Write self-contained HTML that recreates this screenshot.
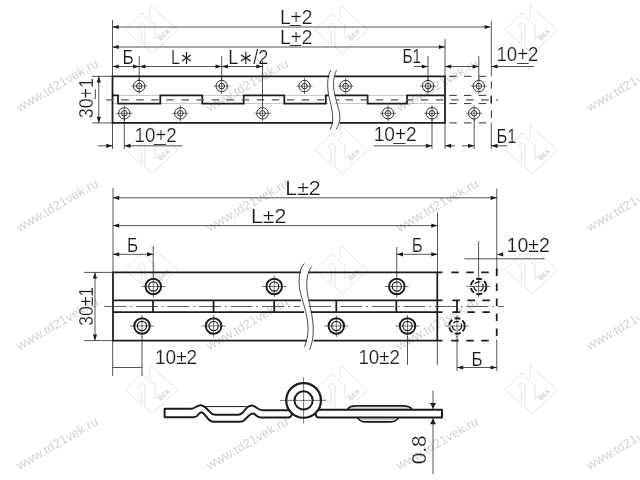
<!DOCTYPE html>
<html lang="ru"><head><meta charset="utf-8"><title>Петля рояльная — чертёж</title>
<style>
html,body{margin:0;padding:0;background:#fff;}
body{width:640px;height:480px;overflow:hidden;}
svg{display:block;will-change:transform;}
svg text{font-family:"Liberation Sans","DejaVu Sans",sans-serif;fill:#1c1c1c;stroke:#fff;stroke-width:0.2px;}
svg text.wm{fill:#d2d2d2;stroke:none;}
</style></head><body>
<svg width="640" height="480" viewBox="0 0 640 480">
<rect width="640" height="480" fill="#fff"/>
<text class="wm" x="19.5" y="112" font-size="12.5" transform="rotate(-30 19.5 112)" textLength="92" lengthAdjust="spacingAndGlyphs">www.td21vek.ru</text>
<text class="wm" x="209.5" y="112" font-size="12.5" transform="rotate(-30 209.5 112)" textLength="92" lengthAdjust="spacingAndGlyphs">www.td21vek.ru</text>
<text class="wm" x="399.5" y="112" font-size="12.5" transform="rotate(-30 399.5 112)" textLength="92" lengthAdjust="spacingAndGlyphs">www.td21vek.ru</text>
<text class="wm" x="589.5" y="112" font-size="12.5" transform="rotate(-30 589.5 112)" textLength="92" lengthAdjust="spacingAndGlyphs">www.td21vek.ru</text>
<text class="wm" x="19.5" y="232" font-size="12.5" transform="rotate(-30 19.5 232)" textLength="92" lengthAdjust="spacingAndGlyphs">www.td21vek.ru</text>
<text class="wm" x="209.5" y="232" font-size="12.5" transform="rotate(-30 209.5 232)" textLength="92" lengthAdjust="spacingAndGlyphs">www.td21vek.ru</text>
<text class="wm" x="399.5" y="232" font-size="12.5" transform="rotate(-30 399.5 232)" textLength="92" lengthAdjust="spacingAndGlyphs">www.td21vek.ru</text>
<text class="wm" x="589.5" y="232" font-size="12.5" transform="rotate(-30 589.5 232)" textLength="92" lengthAdjust="spacingAndGlyphs">www.td21vek.ru</text>
<text class="wm" x="19.5" y="350.5" font-size="12.5" transform="rotate(-30 19.5 350.5)" textLength="92" lengthAdjust="spacingAndGlyphs">www.td21vek.ru</text>
<text class="wm" x="209.5" y="350.5" font-size="12.5" transform="rotate(-30 209.5 350.5)" textLength="92" lengthAdjust="spacingAndGlyphs">www.td21vek.ru</text>
<text class="wm" x="399.5" y="350.5" font-size="12.5" transform="rotate(-30 399.5 350.5)" textLength="92" lengthAdjust="spacingAndGlyphs">www.td21vek.ru</text>
<text class="wm" x="589.5" y="350.5" font-size="12.5" transform="rotate(-30 589.5 350.5)" textLength="92" lengthAdjust="spacingAndGlyphs">www.td21vek.ru</text>
<text class="wm" x="19.5" y="470" font-size="12.5" transform="rotate(-30 19.5 470)" textLength="92" lengthAdjust="spacingAndGlyphs">www.td21vek.ru</text>
<text class="wm" x="209.5" y="470" font-size="12.5" transform="rotate(-30 209.5 470)" textLength="92" lengthAdjust="spacingAndGlyphs">www.td21vek.ru</text>
<text class="wm" x="399.5" y="470" font-size="12.5" transform="rotate(-30 399.5 470)" textLength="92" lengthAdjust="spacingAndGlyphs">www.td21vek.ru</text>
<text class="wm" x="589.5" y="470" font-size="12.5" transform="rotate(-30 589.5 470)" textLength="92" lengthAdjust="spacingAndGlyphs">www.td21vek.ru</text>
<g transform="translate(151 30)" fill="none" stroke="#e3e3e3" stroke-width="1"><path d="M-26,0 L-9,-17 L3,-5 M-1,-11 L-1,-25 L26.5,0 L1,24 L-6,17 L-6,-3 C-6,-7.5 -12.5,-7.5 -12.5,-3 L-9.5,0.5 L-9.5,14 L-26,0 M4,-7 L4,8.5 L9,4"/><text class="wm" x="10" y="11" font-size="6.5" font-weight="bold" stroke="none" transform="rotate(-45 10 11)">ВЕК</text></g>
<g transform="translate(341 30)" fill="none" stroke="#e3e3e3" stroke-width="1"><path d="M-26,0 L-9,-17 L3,-5 M-1,-11 L-1,-25 L26.5,0 L1,24 L-6,17 L-6,-3 C-6,-7.5 -12.5,-7.5 -12.5,-3 L-9.5,0.5 L-9.5,14 L-26,0 M4,-7 L4,8.5 L9,4"/><text class="wm" x="10" y="11" font-size="6.5" font-weight="bold" stroke="none" transform="rotate(-45 10 11)">ВЕК</text></g>
<g transform="translate(531 30)" fill="none" stroke="#e3e3e3" stroke-width="1"><path d="M-26,0 L-9,-17 L3,-5 M-1,-11 L-1,-25 L26.5,0 L1,24 L-6,17 L-6,-3 C-6,-7.5 -12.5,-7.5 -12.5,-3 L-9.5,0.5 L-9.5,14 L-26,0 M4,-7 L4,8.5 L9,4"/><text class="wm" x="10" y="11" font-size="6.5" font-weight="bold" stroke="none" transform="rotate(-45 10 11)">ВЕК</text></g>
<g transform="translate(151 150)" fill="none" stroke="#e3e3e3" stroke-width="1"><path d="M-26,0 L-9,-17 L3,-5 M-1,-11 L-1,-25 L26.5,0 L1,24 L-6,17 L-6,-3 C-6,-7.5 -12.5,-7.5 -12.5,-3 L-9.5,0.5 L-9.5,14 L-26,0 M4,-7 L4,8.5 L9,4"/><text class="wm" x="10" y="11" font-size="6.5" font-weight="bold" stroke="none" transform="rotate(-45 10 11)">ВЕК</text></g>
<g transform="translate(341 150)" fill="none" stroke="#e3e3e3" stroke-width="1"><path d="M-26,0 L-9,-17 L3,-5 M-1,-11 L-1,-25 L26.5,0 L1,24 L-6,17 L-6,-3 C-6,-7.5 -12.5,-7.5 -12.5,-3 L-9.5,0.5 L-9.5,14 L-26,0 M4,-7 L4,8.5 L9,4"/><text class="wm" x="10" y="11" font-size="6.5" font-weight="bold" stroke="none" transform="rotate(-45 10 11)">ВЕК</text></g>
<g transform="translate(531 150)" fill="none" stroke="#e3e3e3" stroke-width="1"><path d="M-26,0 L-9,-17 L3,-5 M-1,-11 L-1,-25 L26.5,0 L1,24 L-6,17 L-6,-3 C-6,-7.5 -12.5,-7.5 -12.5,-3 L-9.5,0.5 L-9.5,14 L-26,0 M4,-7 L4,8.5 L9,4"/><text class="wm" x="10" y="11" font-size="6.5" font-weight="bold" stroke="none" transform="rotate(-45 10 11)">ВЕК</text></g>
<g transform="translate(151 270)" fill="none" stroke="#e3e3e3" stroke-width="1"><path d="M-26,0 L-9,-17 L3,-5 M-1,-11 L-1,-25 L26.5,0 L1,24 L-6,17 L-6,-3 C-6,-7.5 -12.5,-7.5 -12.5,-3 L-9.5,0.5 L-9.5,14 L-26,0 M4,-7 L4,8.5 L9,4"/><text class="wm" x="10" y="11" font-size="6.5" font-weight="bold" stroke="none" transform="rotate(-45 10 11)">ВЕК</text></g>
<g transform="translate(341 270)" fill="none" stroke="#e3e3e3" stroke-width="1"><path d="M-26,0 L-9,-17 L3,-5 M-1,-11 L-1,-25 L26.5,0 L1,24 L-6,17 L-6,-3 C-6,-7.5 -12.5,-7.5 -12.5,-3 L-9.5,0.5 L-9.5,14 L-26,0 M4,-7 L4,8.5 L9,4"/><text class="wm" x="10" y="11" font-size="6.5" font-weight="bold" stroke="none" transform="rotate(-45 10 11)">ВЕК</text></g>
<g transform="translate(531 270)" fill="none" stroke="#e3e3e3" stroke-width="1"><path d="M-26,0 L-9,-17 L3,-5 M-1,-11 L-1,-25 L26.5,0 L1,24 L-6,17 L-6,-3 C-6,-7.5 -12.5,-7.5 -12.5,-3 L-9.5,0.5 L-9.5,14 L-26,0 M4,-7 L4,8.5 L9,4"/><text class="wm" x="10" y="11" font-size="6.5" font-weight="bold" stroke="none" transform="rotate(-45 10 11)">ВЕК</text></g>
<g transform="translate(151 390)" fill="none" stroke="#e3e3e3" stroke-width="1"><path d="M-26,0 L-9,-17 L3,-5 M-1,-11 L-1,-25 L26.5,0 L1,24 L-6,17 L-6,-3 C-6,-7.5 -12.5,-7.5 -12.5,-3 L-9.5,0.5 L-9.5,14 L-26,0 M4,-7 L4,8.5 L9,4"/><text class="wm" x="10" y="11" font-size="6.5" font-weight="bold" stroke="none" transform="rotate(-45 10 11)">ВЕК</text></g>
<g transform="translate(341 390)" fill="none" stroke="#e3e3e3" stroke-width="1"><path d="M-26,0 L-9,-17 L3,-5 M-1,-11 L-1,-25 L26.5,0 L1,24 L-6,17 L-6,-3 C-6,-7.5 -12.5,-7.5 -12.5,-3 L-9.5,0.5 L-9.5,14 L-26,0 M4,-7 L4,8.5 L9,4"/><text class="wm" x="10" y="11" font-size="6.5" font-weight="bold" stroke="none" transform="rotate(-45 10 11)">ВЕК</text></g>
<g transform="translate(531 390)" fill="none" stroke="#e3e3e3" stroke-width="1"><path d="M-26,0 L-9,-17 L3,-5 M-1,-11 L-1,-25 L26.5,0 L1,24 L-6,17 L-6,-3 C-6,-7.5 -12.5,-7.5 -12.5,-3 L-9.5,0.5 L-9.5,14 L-26,0 M4,-7 L4,8.5 L9,4"/><text class="wm" x="10" y="11" font-size="6.5" font-weight="bold" stroke="none" transform="rotate(-45 10 11)">ВЕК</text></g>
<path d="M329.3,76.3 L112.5,76.3 L112.5,122.9 L332.8,122.9" fill="none" stroke="#1c1c1c" stroke-width="1.75"/>
<path d="M334.8,76.3 L445,76.3 L445,122.9 L339.6,122.9" fill="none" stroke="#1c1c1c" stroke-width="1.75"/>
<path d="M330.8,70 C328,75 326.8,83 328.3,93 C330,104 336,117 330.3,129.5" fill="none" stroke="#1c1c1c" stroke-width="0.8"/>
<path d="M336.6,70 C333.5,76 332.5,84 334.8,95 C337.5,108 344,118 336,129.5" fill="none" stroke="#1c1c1c" stroke-width="0.8"/>
<path d="M112.5,95.4 L118,95.4 L118,95.4 L118,103.6 L160.3,103.6 L160.3,95.4 L202.3,95.4 L202.3,103.6 L243.7,103.6 L243.7,95.4 L284.3,95.4 L284.3,103.6 L325.8,103.6 L325.8,95.4 L328.6,95.4" fill="none" stroke="#1c1c1c" stroke-width="1.75"/>
<path d="M334.9,95.4 L367.6,95.4 L367.6,103.6 L407,103.6 L407,95.4 L445,95.4" fill="none" stroke="#1c1c1c" stroke-width="1.75"/>
<line x1="106.2" y1="99.8" x2="326" y2="99.8" stroke="#555" stroke-width="1.3" stroke-dasharray="7.5 7.55"/>
<line x1="345.6" y1="99.8" x2="498" y2="99.8" stroke="#555" stroke-width="1.3" stroke-dasharray="7.5 7.55"/><line x1="336" y1="99.8" x2="339.2" y2="99.8" stroke="#555" stroke-width="1.3"/>
<line x1="112.5" y1="95.4" x2="328" y2="95.4" stroke="#1c1c1c" stroke-width="0.6" opacity="0.45"/>
<line x1="335" y1="95.4" x2="445" y2="95.4" stroke="#1c1c1c" stroke-width="0.6" opacity="0.45"/>
<line x1="112.5" y1="103.6" x2="328" y2="103.6" stroke="#1c1c1c" stroke-width="0.6" opacity="0.45"/>
<line x1="335" y1="103.6" x2="445" y2="103.6" stroke="#1c1c1c" stroke-width="0.6" opacity="0.45"/>
<line x1="449.3" y1="76.3" x2="491.5" y2="76.3" stroke="#1c1c1c" stroke-width="0.9" stroke-dasharray="7.5 7.2"/>
<line x1="449.3" y1="122.9" x2="491.5" y2="122.9" stroke="#1c1c1c" stroke-width="0.9" stroke-dasharray="7.5 7.2"/>
<line x1="491.4" y1="81.3" x2="491.4" y2="122.9" stroke="#1c1c1c" stroke-width="0.9" stroke-dasharray="7.5 7.2"/>
<line x1="449.3" y1="95.4" x2="491" y2="95.4" stroke="#1c1c1c" stroke-width="0.9" stroke-dasharray="7.5 7.2"/>
<line x1="449.3" y1="103.6" x2="491" y2="103.6" stroke="#1c1c1c" stroke-width="0.9" stroke-dasharray="7.5 7.2"/>
<line x1="491.2" y1="95.4" x2="491.2" y2="103.6" stroke="#1c1c1c" stroke-width="1.3" />
<circle cx="139.2" cy="86.1" r="5.7" fill="none" stroke="#1c1c1c" stroke-width="0.9"/>
<circle cx="139.2" cy="86.1" r="2.8" fill="none" stroke="#1c1c1c" stroke-width="0.9"/>
<line x1="131.2" y1="86.1" x2="147.2" y2="86.1" stroke="#1c1c1c" stroke-width="0.6" />
<line x1="139.2" y1="78.1" x2="139.2" y2="94.1" stroke="#1c1c1c" stroke-width="0.6" />
<circle cx="221.7" cy="86.1" r="5.7" fill="none" stroke="#1c1c1c" stroke-width="0.9"/>
<circle cx="221.7" cy="86.1" r="2.8" fill="none" stroke="#1c1c1c" stroke-width="0.9"/>
<line x1="213.7" y1="86.1" x2="229.7" y2="86.1" stroke="#1c1c1c" stroke-width="0.6" />
<line x1="221.7" y1="78.1" x2="221.7" y2="94.1" stroke="#1c1c1c" stroke-width="0.6" />
<circle cx="304.5" cy="86.1" r="5.7" fill="none" stroke="#1c1c1c" stroke-width="0.9"/>
<circle cx="304.5" cy="86.1" r="2.8" fill="none" stroke="#1c1c1c" stroke-width="0.9"/>
<line x1="296.5" y1="86.1" x2="312.5" y2="86.1" stroke="#1c1c1c" stroke-width="0.6" />
<line x1="304.5" y1="78.1" x2="304.5" y2="94.1" stroke="#1c1c1c" stroke-width="0.6" />
<circle cx="345.6" cy="86.1" r="5.7" fill="none" stroke="#1c1c1c" stroke-width="0.9"/>
<circle cx="345.6" cy="86.1" r="2.8" fill="none" stroke="#1c1c1c" stroke-width="0.9"/>
<line x1="337.6" y1="86.1" x2="353.6" y2="86.1" stroke="#1c1c1c" stroke-width="0.6" />
<line x1="345.6" y1="78.1" x2="345.6" y2="94.1" stroke="#1c1c1c" stroke-width="0.6" />
<circle cx="428" cy="86.1" r="5.7" fill="none" stroke="#1c1c1c" stroke-width="0.9"/>
<circle cx="428" cy="86.1" r="2.8" fill="none" stroke="#1c1c1c" stroke-width="0.9"/>
<line x1="420" y1="86.1" x2="436" y2="86.1" stroke="#1c1c1c" stroke-width="0.6" />
<line x1="428" y1="78.1" x2="428" y2="94.1" stroke="#1c1c1c" stroke-width="0.6" />
<circle cx="124.3" cy="113.3" r="5.7" fill="none" stroke="#1c1c1c" stroke-width="0.9"/>
<circle cx="124.3" cy="113.3" r="2.8" fill="none" stroke="#1c1c1c" stroke-width="0.9"/>
<line x1="116.3" y1="113.3" x2="132.3" y2="113.3" stroke="#1c1c1c" stroke-width="0.6" />
<line x1="124.3" y1="105.3" x2="124.3" y2="121.3" stroke="#1c1c1c" stroke-width="0.6" />
<circle cx="180.4" cy="113.3" r="5.7" fill="none" stroke="#1c1c1c" stroke-width="0.9"/>
<circle cx="180.4" cy="113.3" r="2.8" fill="none" stroke="#1c1c1c" stroke-width="0.9"/>
<line x1="172.4" y1="113.3" x2="188.4" y2="113.3" stroke="#1c1c1c" stroke-width="0.6" />
<line x1="180.4" y1="105.3" x2="180.4" y2="121.3" stroke="#1c1c1c" stroke-width="0.6" />
<circle cx="262.5" cy="113.3" r="5.7" fill="none" stroke="#1c1c1c" stroke-width="0.9"/>
<circle cx="262.5" cy="113.3" r="2.8" fill="none" stroke="#1c1c1c" stroke-width="0.9"/>
<line x1="254.5" y1="113.3" x2="270.5" y2="113.3" stroke="#1c1c1c" stroke-width="0.6" />
<line x1="262.5" y1="105.3" x2="262.5" y2="121.3" stroke="#1c1c1c" stroke-width="0.6" />
<circle cx="388" cy="113.3" r="5.7" fill="none" stroke="#1c1c1c" stroke-width="0.9"/>
<circle cx="388" cy="113.3" r="2.8" fill="none" stroke="#1c1c1c" stroke-width="0.9"/>
<line x1="380" y1="113.3" x2="396" y2="113.3" stroke="#1c1c1c" stroke-width="0.6" />
<line x1="388" y1="105.3" x2="388" y2="121.3" stroke="#1c1c1c" stroke-width="0.6" />
<circle cx="432" cy="113.3" r="5.7" fill="none" stroke="#1c1c1c" stroke-width="0.9"/>
<circle cx="432" cy="113.3" r="2.8" fill="none" stroke="#1c1c1c" stroke-width="0.9"/>
<line x1="424" y1="113.3" x2="440" y2="113.3" stroke="#1c1c1c" stroke-width="0.6" />
<line x1="432" y1="105.3" x2="432" y2="121.3" stroke="#1c1c1c" stroke-width="0.6" />
<circle cx="478.8" cy="86.1" r="5.7" fill="none" stroke="#1c1c1c" stroke-width="0.9"/>
<circle cx="478.8" cy="86.1" r="2.8" fill="none" stroke="#1c1c1c" stroke-width="0.9"/>
<line x1="470.8" y1="86.1" x2="486.8" y2="86.1" stroke="#1c1c1c" stroke-width="0.6" />
<line x1="478.8" y1="78.1" x2="478.8" y2="94.1" stroke="#1c1c1c" stroke-width="0.6" />
<circle cx="474.2" cy="113.3" r="5.7" fill="none" stroke="#1c1c1c" stroke-width="0.9"/>
<circle cx="474.2" cy="113.3" r="2.8" fill="none" stroke="#1c1c1c" stroke-width="0.9"/>
<line x1="466.2" y1="113.3" x2="482.2" y2="113.3" stroke="#1c1c1c" stroke-width="0.6" />
<line x1="474.2" y1="105.3" x2="474.2" y2="121.3" stroke="#1c1c1c" stroke-width="0.6" />
<line x1="112.5" y1="20" x2="112.5" y2="76.3" stroke="#1c1c1c" stroke-width="0.75" />
<line x1="112.5" y1="122.9" x2="112.5" y2="149" stroke="#1c1c1c" stroke-width="0.75" />
<line x1="124.3" y1="113" x2="124.3" y2="149" stroke="#1c1c1c" stroke-width="0.75" />
<line x1="491.3" y1="21" x2="491.3" y2="76.3" stroke="#1c1c1c" stroke-width="0.75" />
<line x1="491.3" y1="122.9" x2="491.3" y2="149" stroke="#1c1c1c" stroke-width="0.75" />
<line x1="445" y1="39" x2="445" y2="76.3" stroke="#1c1c1c" stroke-width="0.75" />
<line x1="445" y1="122.9" x2="445" y2="149" stroke="#1c1c1c" stroke-width="0.75" />
<line x1="112.5" y1="27" x2="490" y2="27" stroke="#1c1c1c" stroke-width="0.75" />
<polygon points="112.5,27 118.7,24.9 118.7,29.1" fill="#1c1c1c"/>
<polygon points="490.8,27 484.6,24.9 484.6,29.1" fill="#1c1c1c"/>
<line x1="112.5" y1="47" x2="445" y2="47" stroke="#1c1c1c" stroke-width="0.75" />
<polygon points="112.5,47 118.7,44.9 118.7,49.1" fill="#1c1c1c"/>
<polygon points="445,47 438.8,44.9 438.8,49.1" fill="#1c1c1c"/>
<line x1="112.5" y1="66.5" x2="262.5" y2="66.5" stroke="#1c1c1c" stroke-width="0.75" />
<polygon points="112.5,66.5 118.7,64.4 118.7,68.6" fill="#1c1c1c"/>
<polygon points="139.2,66.5 133.0,64.4 133.0,68.6" fill="#1c1c1c"/>
<polygon points="139.2,66.5 145.39999999999998,64.4 145.39999999999998,68.6" fill="#1c1c1c"/>
<polygon points="221.7,66.5 215.5,64.4 215.5,68.6" fill="#1c1c1c"/>
<polygon points="221.7,66.5 227.89999999999998,64.4 227.89999999999998,68.6" fill="#1c1c1c"/>
<polygon points="262.5,66.5 256.3,64.4 256.3,68.6" fill="#1c1c1c"/>
<line x1="139.2" y1="56" x2="139.2" y2="80" stroke="#1c1c1c" stroke-width="0.75" />
<line x1="221.7" y1="56" x2="221.7" y2="80" stroke="#1c1c1c" stroke-width="0.75" />
<line x1="262.5" y1="61" x2="262.5" y2="107" stroke="#1c1c1c" stroke-width="0.75" />
<line x1="414" y1="66.5" x2="428" y2="66.5" stroke="#1c1c1c" stroke-width="0.75" />
<polygon points="428,66.5 421.8,64.4 421.8,68.6" fill="#1c1c1c"/>
<line x1="428" y1="56" x2="428" y2="80" stroke="#1c1c1c" stroke-width="0.75" />
<line x1="445" y1="66.5" x2="478.8" y2="66.5" stroke="#1c1c1c" stroke-width="0.75" />
<polygon points="445,66.5 451.2,64.4 451.2,68.6" fill="#1c1c1c"/>
<polygon points="478.8,66.5 472.6,64.4 472.6,68.6" fill="#1c1c1c"/>
<line x1="478.8" y1="56" x2="478.8" y2="80" stroke="#1c1c1c" stroke-width="0.75" />
<line x1="491.3" y1="66.5" x2="534" y2="66.5" stroke="#1c1c1c" stroke-width="0.75" />
<polygon points="491.3,66.5 497.5,64.4 497.5,68.6" fill="#1c1c1c"/>
<line x1="97.5" y1="145.8" x2="112.5" y2="145.8" stroke="#1c1c1c" stroke-width="0.75" />
<polygon points="112.5,145.8 106.3,143.70000000000002 106.3,147.9" fill="#1c1c1c"/>
<line x1="124.3" y1="145.8" x2="182.5" y2="145.8" stroke="#1c1c1c" stroke-width="0.75" />
<polygon points="124.3,145.8 130.5,143.70000000000002 130.5,147.9" fill="#1c1c1c"/>
<line x1="373.5" y1="145.8" x2="432" y2="145.8" stroke="#1c1c1c" stroke-width="0.75" />
<polygon points="432,145.8 425.8,143.70000000000002 425.8,147.9" fill="#1c1c1c"/>
<line x1="445" y1="145.8" x2="455" y2="145.8" stroke="#1c1c1c" stroke-width="0.75" />
<polygon points="445,145.8 451.2,143.70000000000002 451.2,147.9" fill="#1c1c1c"/>
<line x1="432" y1="119" x2="432" y2="149" stroke="#1c1c1c" stroke-width="0.75" />
<line x1="462" y1="145.8" x2="474.2" y2="145.8" stroke="#1c1c1c" stroke-width="0.75" />
<polygon points="474.2,145.8 468.0,143.70000000000002 468.0,147.9" fill="#1c1c1c"/>
<line x1="474.2" y1="119" x2="474.2" y2="149" stroke="#1c1c1c" stroke-width="0.75" />
<line x1="491.3" y1="145.8" x2="507" y2="145.8" stroke="#1c1c1c" stroke-width="0.75" />
<polygon points="491.3,145.8 497.5,143.70000000000002 497.5,147.9" fill="#1c1c1c"/>
<line x1="98.8" y1="76.3" x2="98.8" y2="122.9" stroke="#1c1c1c" stroke-width="0.75" />
<polygon points="98.8,76.3 96.7,82.5 100.89999999999999,82.5" fill="#1c1c1c"/>
<polygon points="98.8,122.9 96.7,116.7 100.89999999999999,116.7" fill="#1c1c1c"/>
<line x1="92" y1="76.3" x2="112.5" y2="76.3" stroke="#1c1c1c" stroke-width="0.75" />
<line x1="92" y1="122.9" x2="112.5" y2="122.9" stroke="#1c1c1c" stroke-width="0.75" />
<text x="279.9" y="23.5" font-size="19.4" text-anchor="start" textLength="32.6" lengthAdjust="spacingAndGlyphs">L+2</text>
<line x1="289.5" y1="25.5" x2="301.2" y2="25.5" stroke="#1c1c1c" stroke-width="0.85" />
<text x="279.9" y="43.6" font-size="19.4" text-anchor="start" textLength="32.6" lengthAdjust="spacingAndGlyphs">L+2</text>
<line x1="289.5" y1="45.5" x2="301.2" y2="45.5" stroke="#1c1c1c" stroke-width="0.85" />
<text x="122.4" y="64.4" font-size="19.4" text-anchor="start" textLength="11.2" lengthAdjust="spacingAndGlyphs">Б</text>
<text x="170.9" y="64.4" font-size="19.4" text-anchor="start" textLength="22.4" lengthAdjust="spacingAndGlyphs">L∗</text>
<text x="228.2" y="64.4" font-size="19.4" text-anchor="start" textLength="40.2" lengthAdjust="spacingAndGlyphs">L∗/2</text>
<text x="402.4" y="63.3" font-size="19.4" text-anchor="start" textLength="18.7" lengthAdjust="spacingAndGlyphs">Б1</text>
<text x="496.5" y="61.3" font-size="19.4" text-anchor="start" textLength="42" lengthAdjust="spacingAndGlyphs">10+2</text>
<line x1="517" y1="63.5" x2="528.7" y2="63.5" stroke="#1c1c1c" stroke-width="0.85" />
<text x="134.6" y="142.2" font-size="19.4" text-anchor="start" textLength="42.2" lengthAdjust="spacingAndGlyphs">10+2</text>
<line x1="153.8" y1="144.5" x2="166" y2="144.5" stroke="#1c1c1c" stroke-width="0.85" />
<text x="373.7" y="141.2" font-size="19.4" text-anchor="start" textLength="43" lengthAdjust="spacingAndGlyphs">10+2</text>
<line x1="393.2" y1="143.5" x2="405.4" y2="143.5" stroke="#1c1c1c" stroke-width="0.85" />
<text x="496.5" y="142.5" font-size="19.4" text-anchor="start" textLength="20" lengthAdjust="spacingAndGlyphs">Б1</text>
<text x="93.4" y="118.2" font-size="19.4" text-anchor="start" textLength="40" lengthAdjust="spacingAndGlyphs" transform="rotate(-90 93.4 118.2)">30+1</text>
<line x1="95.3" y1="89.3" x2="95.3" y2="99.2" stroke="#1c1c1c" stroke-width="0.85" />
<path d="M300.8,272.4 L113,272.4 L113,340.6 L306.6,340.6" fill="none" stroke="#1c1c1c" stroke-width="1.75"/>
<path d="M308.6,272.4 L442.5,272.4 M437.3,272.4 L437.3,340.6 M442.5,340.6 L313.6,340.6" fill="none" stroke="#1c1c1c" stroke-width="1.75"/>
<path d="M113,300.4 L301,300.4 M113,312.0 L304,312.0 M308.6,300.4 L442.5,300.4 M310.8,312.0 L442.5,312.0" fill="none" stroke="#1c1c1c" stroke-width="1.75"/>
<line x1="153" y1="300.4" x2="153" y2="312.0" stroke="#1c1c1c" stroke-width="1.75" />
<line x1="213.6" y1="300.4" x2="213.6" y2="312.0" stroke="#1c1c1c" stroke-width="1.75" />
<line x1="274.2" y1="300.4" x2="274.2" y2="312.0" stroke="#1c1c1c" stroke-width="1.75" />
<line x1="336.3" y1="300.4" x2="336.3" y2="312.0" stroke="#1c1c1c" stroke-width="1.75" />
<line x1="396.3" y1="300.4" x2="396.3" y2="312.0" stroke="#1c1c1c" stroke-width="1.75" />
<path d="M304.4,263.3 C300,268 298.3,276 299.5,288 C302,304 314,325 304.4,346.7" fill="none" stroke="#1c1c1c" stroke-width="0.8"/>
<path d="M311.7,266.5 C308,271 306,279 307,290 C308.5,305 318.5,328 309.6,349.8" fill="none" stroke="#1c1c1c" stroke-width="0.8"/>
<line x1="104.5" y1="306.5" x2="300" y2="306.5" stroke="#1c1c1c" stroke-width="0.7" stroke-dasharray="22 4 1.5 4"/>
<line x1="309" y1="306.5" x2="504" y2="306.5" stroke="#1c1c1c" stroke-width="0.7" stroke-dasharray="22 4 1.5 4"/>
<line x1="451.25" y1="272.4" x2="496.8" y2="272.4" stroke="#1c1c1c" stroke-width="1.75" stroke-dasharray="7.5 7.5"/>
<line x1="451.25" y1="340.6" x2="496.8" y2="340.6" stroke="#1c1c1c" stroke-width="1.75" stroke-dasharray="7.5 7.5"/>
<line x1="496.7" y1="268.5" x2="496.7" y2="340.6" stroke="#1c1c1c" stroke-width="1.75" stroke-dasharray="7.5 7.5"/>
<line x1="452.4" y1="300.4" x2="492" y2="300.4" stroke="#1c1c1c" stroke-width="1.75" stroke-dasharray="7.5 7.5"/>
<line x1="452.4" y1="312.0" x2="492" y2="312.0" stroke="#1c1c1c" stroke-width="1.75" stroke-dasharray="7.5 7.5"/>
<line x1="457" y1="300.4" x2="457" y2="312.0" stroke="#1c1c1c" stroke-width="1.75" />
<circle cx="153.3" cy="286.5" r="7.8" fill="none" stroke="#1c1c1c" stroke-width="1.9"/>
<circle cx="153.3" cy="286.5" r="4.6" fill="none" stroke="#1c1c1c" stroke-width="1.2"/>
<line x1="141.3" y1="286.5" x2="165.3" y2="286.5" stroke="#1c1c1c" stroke-width="0.6" />
<line x1="153.3" y1="275.5" x2="153.3" y2="297.5" stroke="#1c1c1c" stroke-width="0.6" />
<circle cx="274.2" cy="286.5" r="7.8" fill="none" stroke="#1c1c1c" stroke-width="1.9"/>
<circle cx="274.2" cy="286.5" r="4.6" fill="none" stroke="#1c1c1c" stroke-width="1.2"/>
<line x1="262.2" y1="286.5" x2="286.2" y2="286.5" stroke="#1c1c1c" stroke-width="0.6" />
<line x1="274.2" y1="275.5" x2="274.2" y2="297.5" stroke="#1c1c1c" stroke-width="0.6" />
<circle cx="396.8" cy="286.5" r="7.8" fill="none" stroke="#1c1c1c" stroke-width="1.9"/>
<circle cx="396.8" cy="286.5" r="4.6" fill="none" stroke="#1c1c1c" stroke-width="1.2"/>
<line x1="384.8" y1="286.5" x2="408.8" y2="286.5" stroke="#1c1c1c" stroke-width="0.6" />
<line x1="396.8" y1="275.5" x2="396.8" y2="297.5" stroke="#1c1c1c" stroke-width="0.6" />
<circle cx="142" cy="326" r="7.8" fill="none" stroke="#1c1c1c" stroke-width="1.9"/>
<circle cx="142" cy="326" r="4.6" fill="none" stroke="#1c1c1c" stroke-width="1.2"/>
<line x1="130" y1="326" x2="154" y2="326" stroke="#1c1c1c" stroke-width="0.6" />
<line x1="142" y1="315" x2="142" y2="337" stroke="#1c1c1c" stroke-width="0.6" />
<circle cx="213.6" cy="326" r="7.8" fill="none" stroke="#1c1c1c" stroke-width="1.9"/>
<circle cx="213.6" cy="326" r="4.6" fill="none" stroke="#1c1c1c" stroke-width="1.2"/>
<line x1="201.6" y1="326" x2="225.6" y2="326" stroke="#1c1c1c" stroke-width="0.6" />
<line x1="213.6" y1="315" x2="213.6" y2="337" stroke="#1c1c1c" stroke-width="0.6" />
<circle cx="336.3" cy="326" r="7.8" fill="none" stroke="#1c1c1c" stroke-width="1.9"/>
<circle cx="336.3" cy="326" r="4.6" fill="none" stroke="#1c1c1c" stroke-width="1.2"/>
<line x1="324.3" y1="326" x2="348.3" y2="326" stroke="#1c1c1c" stroke-width="0.6" />
<line x1="336.3" y1="315" x2="336.3" y2="337" stroke="#1c1c1c" stroke-width="0.6" />
<circle cx="407.5" cy="326" r="7.8" fill="none" stroke="#1c1c1c" stroke-width="1.9"/>
<circle cx="407.5" cy="326" r="4.6" fill="none" stroke="#1c1c1c" stroke-width="1.2"/>
<line x1="395.5" y1="326" x2="419.5" y2="326" stroke="#1c1c1c" stroke-width="0.6" />
<line x1="407.5" y1="315" x2="407.5" y2="337" stroke="#1c1c1c" stroke-width="0.6" />
<circle cx="478.6" cy="286.5" r="7.8" fill="none" stroke="#1c1c1c" stroke-width="1.9" stroke-dasharray="6 2.5"/>
<circle cx="478.6" cy="286.5" r="4.6" fill="none" stroke="#1c1c1c" stroke-width="1.2" stroke-dasharray="6 2.5"/>
<line x1="466.6" y1="286.5" x2="490.6" y2="286.5" stroke="#1c1c1c" stroke-width="0.6" />
<line x1="478.6" y1="275.5" x2="478.6" y2="297.5" stroke="#1c1c1c" stroke-width="0.6" />
<circle cx="457" cy="326" r="7.8" fill="none" stroke="#1c1c1c" stroke-width="1.9" stroke-dasharray="6 2.5"/>
<circle cx="457" cy="326" r="4.6" fill="none" stroke="#1c1c1c" stroke-width="1.2" stroke-dasharray="6 2.5"/>
<line x1="445" y1="326" x2="469" y2="326" stroke="#1c1c1c" stroke-width="0.6" />
<line x1="457" y1="315" x2="457" y2="337" stroke="#1c1c1c" stroke-width="0.6" />
<line x1="113" y1="188" x2="113" y2="272.4" stroke="#1c1c1c" stroke-width="0.75" />
<line x1="496.8" y1="188.5" x2="496.8" y2="272.4" stroke="#1c1c1c" stroke-width="0.75" />
<line x1="113" y1="197.8" x2="496.8" y2="197.8" stroke="#1c1c1c" stroke-width="0.75" />
<polygon points="113,197.8 119.2,195.70000000000002 119.2,199.9" fill="#1c1c1c"/>
<polygon points="496.8,197.8 490.6,195.70000000000002 490.6,199.9" fill="#1c1c1c"/>
<line x1="437.5" y1="212.5" x2="437.5" y2="272.4" stroke="#1c1c1c" stroke-width="0.75" />
<line x1="113" y1="225.6" x2="437.5" y2="225.6" stroke="#1c1c1c" stroke-width="0.75" />
<polygon points="113,225.6 119.2,223.5 119.2,227.7" fill="#1c1c1c"/>
<polygon points="437.5,225.6 431.3,223.5 431.3,227.7" fill="#1c1c1c"/>
<line x1="113" y1="254.3" x2="153.2" y2="254.3" stroke="#1c1c1c" stroke-width="0.75" />
<polygon points="113,254.3 119.2,252.20000000000002 119.2,256.40000000000003" fill="#1c1c1c"/>
<polygon points="153.2,254.3 147.0,252.20000000000002 147.0,256.40000000000003" fill="#1c1c1c"/>
<line x1="153.2" y1="246" x2="153.2" y2="276" stroke="#1c1c1c" stroke-width="0.75" />
<line x1="396.8" y1="254.3" x2="437.5" y2="254.3" stroke="#1c1c1c" stroke-width="0.75" />
<polygon points="396.8,254.3 403.0,252.20000000000002 403.0,256.40000000000003" fill="#1c1c1c"/>
<polygon points="437.5,254.3 431.3,252.20000000000002 431.3,256.40000000000003" fill="#1c1c1c"/>
<line x1="396.8" y1="247" x2="396.8" y2="276" stroke="#1c1c1c" stroke-width="0.75" />
<line x1="478.6" y1="241" x2="478.6" y2="276" stroke="#1c1c1c" stroke-width="0.75" />
<line x1="464.5" y1="258.8" x2="544.5" y2="258.8" stroke="#1c1c1c" stroke-width="0.75" />
<polygon points="497,254.4 503.2,252.3 503.2,256.5" fill="#1c1c1c"/>
<line x1="95" y1="272.4" x2="95" y2="340.6" stroke="#1c1c1c" stroke-width="0.75" />
<polygon points="95,272.4 92.9,278.59999999999997 97.1,278.59999999999997" fill="#1c1c1c"/>
<polygon points="95,340.6 92.9,334.40000000000003 97.1,334.40000000000003" fill="#1c1c1c"/>
<line x1="84" y1="272.4" x2="113" y2="272.4" stroke="#1c1c1c" stroke-width="0.75" />
<line x1="84" y1="340.6" x2="113" y2="340.6" stroke="#1c1c1c" stroke-width="0.75" />
<line x1="112.7" y1="340.6" x2="112.7" y2="376" stroke="#1c1c1c" stroke-width="0.75" />
<line x1="142" y1="336" x2="142" y2="376" stroke="#1c1c1c" stroke-width="0.75" />
<line x1="112.7" y1="367.5" x2="142" y2="367.5" stroke="#1c1c1c" stroke-width="0.75" />
<line x1="407.5" y1="336" x2="407.5" y2="365" stroke="#1c1c1c" stroke-width="0.75" />
<line x1="437.3" y1="340.6" x2="437.3" y2="365" stroke="#1c1c1c" stroke-width="0.75" />
<line x1="457" y1="336" x2="457" y2="371" stroke="#1c1c1c" stroke-width="0.75" />
<line x1="496.8" y1="340.6" x2="496.8" y2="371" stroke="#1c1c1c" stroke-width="0.75" />
<line x1="457" y1="367.5" x2="496.8" y2="367.5" stroke="#1c1c1c" stroke-width="0.75" />
<polygon points="457,367.5 463.2,365.4 463.2,369.6" fill="#1c1c1c"/>
<polygon points="496.8,367.5 490.6,365.4 490.6,369.6" fill="#1c1c1c"/>
<text x="285.3" y="195" font-size="19.4" text-anchor="start" textLength="35.4" lengthAdjust="spacingAndGlyphs">L±2</text>
<text x="251" y="222.7" font-size="19.4" text-anchor="start" textLength="35.4" lengthAdjust="spacingAndGlyphs">L±2</text>
<text x="126.9" y="252" font-size="19.4" text-anchor="start" textLength="11.2" lengthAdjust="spacingAndGlyphs">Б</text>
<text x="411.8" y="252" font-size="19.4" text-anchor="start" textLength="11" lengthAdjust="spacingAndGlyphs">Б</text>
<text x="506.6" y="252" font-size="19.4" text-anchor="start" textLength="43.4" lengthAdjust="spacingAndGlyphs">10±2</text>
<text x="155" y="364.4" font-size="19.4" text-anchor="start" textLength="42.2" lengthAdjust="spacingAndGlyphs">10±2</text>
<text x="358.4" y="364.4" font-size="19.4" text-anchor="start" textLength="41.6" lengthAdjust="spacingAndGlyphs">10±2</text>
<text x="471.5" y="365.9" font-size="19.4" text-anchor="start" textLength="11" lengthAdjust="spacingAndGlyphs">Б</text>
<text x="92.9" y="325.7" font-size="19.4" text-anchor="start" textLength="38.6" lengthAdjust="spacingAndGlyphs" transform="rotate(-90 92.9 325.7)">30±1</text>
<path d="M164.6,408.8 L191,408.8 C195,408.8 196.5,405.3 200.4,405.3 C204,405.3 206,408 208.5,410.5 L211,413 C212.5,414.5 213.5,414.8 215.5,414.8 L238,414.8 C240,414.8 241,414.3 242.5,412.8 L246.5,408.2 C248.5,406 250,405.4 251.9,405.4 C255.5,405.4 257.5,410.3 262.5,410.3 L292,410.3 L292,414 C291.5,416 290.5,417.4 288.5,417.4 L260.5,417.4 C256.5,417.4 255.5,413.6 253,413.6 C251,413.6 250,414.5 248.5,416 L244.5,420 C243,421.5 242,421.8 240,421.8 L213.5,421.8 C211.5,421.8 210.5,421.3 209,419.8 L205,415 C203.5,413.2 202.8,412.2 201.3,412.2 C198.5,412.2 198.5,417.3 194,417.3 L164.6,417.3 Z" fill="#fff" stroke="#1c1c1c" stroke-width="2.0" stroke-linejoin="round"/>
<line x1="205.5" y1="406.6" x2="246.8" y2="406.6" stroke="#1c1c1c" stroke-width="1.0" />
<path d="M316,409.7 L442,409.7 L442,417.6 L319,417.6 C317,417.6 316,416.2 315.5,414" fill="#fff" stroke="#1c1c1c" stroke-width="2.0" stroke-linejoin="round"/>
<path d="M347.3,409.7 C349,406.5 352,405.9 356,405.9 L403,405.9 C407,405.9 410,406.5 412.5,409.7" fill="none" stroke="#1c1c1c" stroke-width="1.7"/><path d="M350.5,408 L408.5,408" fill="none" stroke="#1c1c1c" stroke-width="0.6" opacity="0.55"/>
<path d="M357.5,417.6 C359.5,421 362,421.9 366,421.9 L390,421.9 C394,421.9 396.5,421 398.5,417.6" fill="none" stroke="#1c1c1c" stroke-width="1.7"/><path d="M361,419.8 L395,419.8" fill="none" stroke="#1c1c1c" stroke-width="0.6" opacity="0.55"/>
<circle cx="303.6" cy="400.4" r="17.35" fill="#fff" stroke="#1c1c1c" stroke-width="2.2"/>
<circle cx="303.6" cy="400.4" r="9.1" fill="#fff" stroke="#1c1c1c" stroke-width="2"/>
<line x1="280" y1="400.4" x2="326" y2="400.4" stroke="#1c1c1c" stroke-width="0.6" />
<line x1="303.6" y1="377.3" x2="303.6" y2="423.5" stroke="#1c1c1c" stroke-width="0.6" />
<line x1="433" y1="390.5" x2="433" y2="409" stroke="#1c1c1c" stroke-width="0.75" />
<polygon points="433,408.8 430,403.0 436,403.0" fill="#1c1c1c"/>
<polygon points="433,418.5 430,424.3 436,424.3" fill="#1c1c1c"/>
<line x1="433" y1="418" x2="433" y2="474" stroke="#1c1c1c" stroke-width="0.75" />
<text x="426.3" y="464.3" font-size="19.4" text-anchor="start" textLength="29" lengthAdjust="spacingAndGlyphs" transform="rotate(-90 426.3 464.3)">0.8</text>
</svg>
</body></html>
